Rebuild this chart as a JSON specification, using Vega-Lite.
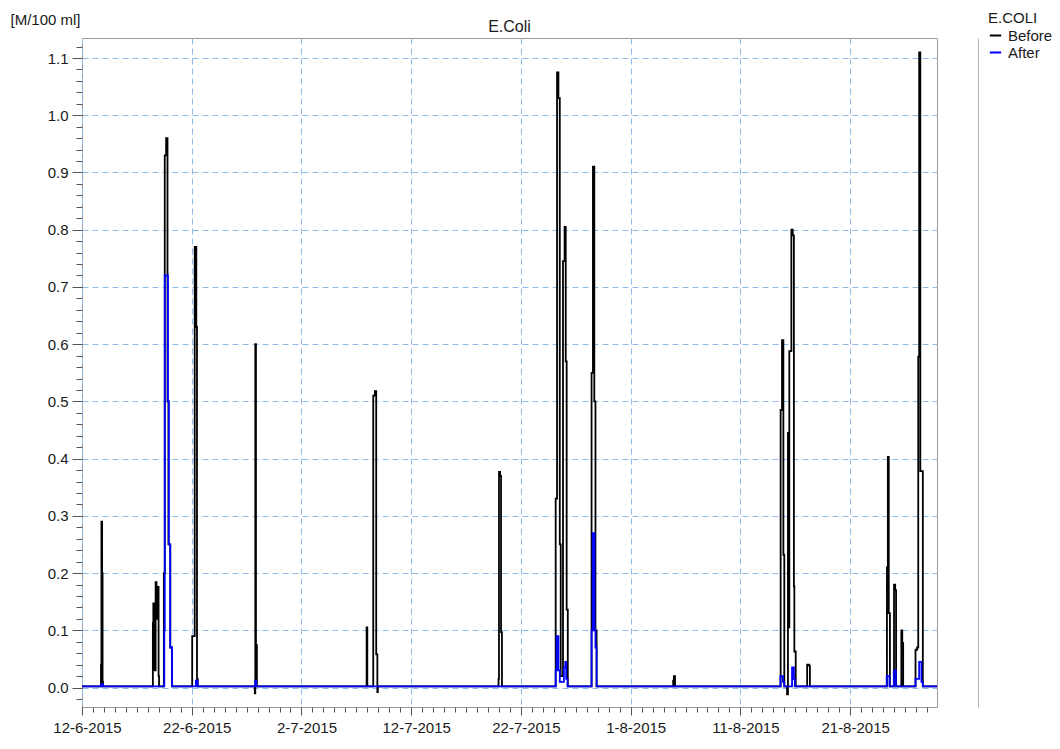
{
  "$schema": "https://vega.github.io/schema/vega-lite/v6.json",
  "autosize": {"type": "none"},
  "width": 855,
  "height": 669,
  "padding": {"left": 82, "top": 38, "right": 123, "bottom": 42},
  "background": "white",
  "config": {
    "view": {"stroke": "#9a9a9a", "strokeWidth": 1},
    "font": "Liberation Sans",
    "axis": {"labelFont": "Liberation Sans", "titleFont": "Liberation Sans", "labelColor": "#1a1a1a", "tickColor": "#555555", "domain": false}
  },
  "title": {"text": "E.Coli", "fontSize": 16, "fontWeight": "normal", "font": "Liberation Sans", "color": "#1a1a1a", "anchor": "middle", "offset": -24},
  "data": {
    "values": [
      {"t": "2015-06-12T00:00", "s": "Before", "v": 0.002},
      {"t": "2015-06-13T17:30", "s": "Before", "v": 0.04},
      {"t": "2015-06-13T18:30", "s": "Before", "v": 0.29},
      {"t": "2015-06-13T20:00", "s": "Before", "v": 0.2},
      {"t": "2015-06-13T21:00", "s": "Before", "v": 0.01},
      {"t": "2015-06-13T22:00", "s": "Before", "v": 0.002},
      {"t": "2015-06-18T11:00", "s": "Before", "v": 0.113},
      {"t": "2015-06-18T12:00", "s": "Before", "v": 0.147},
      {"t": "2015-06-18T14:00", "s": "Before", "v": 0.03},
      {"t": "2015-06-18T17:00", "s": "Before", "v": 0.184},
      {"t": "2015-06-18T19:00", "s": "Before", "v": 0.12},
      {"t": "2015-06-18T21:00", "s": "Before", "v": 0.176},
      {"t": "2015-06-18T23:30", "s": "Before", "v": 0.02},
      {"t": "2015-06-19T00:30", "s": "Before", "v": 0.002},
      {"t": "2015-06-19T11:00", "s": "Before", "v": 0.2},
      {"t": "2015-06-19T13:00", "s": "Before", "v": 0.93},
      {"t": "2015-06-19T16:00", "s": "Before", "v": 0.96},
      {"t": "2015-06-19T19:00", "s": "Before", "v": 0.5},
      {"t": "2015-06-19T21:00", "s": "Before", "v": 0.25},
      {"t": "2015-06-20T01:00", "s": "Before", "v": 0.07},
      {"t": "2015-06-20T05:00", "s": "Before", "v": 0.002},
      {"t": "2015-06-22T01:00", "s": "Before", "v": 0.09},
      {"t": "2015-06-22T06:30", "s": "Before", "v": 0.77},
      {"t": "2015-06-22T10:00", "s": "Before", "v": 0.63},
      {"t": "2015-06-22T11:30", "s": "Before", "v": 0.015},
      {"t": "2015-06-22T13:00", "s": "Before", "v": 0.002},
      {"t": "2015-06-27T18:00", "s": "Before", "v": -0.01},
      {"t": "2015-06-27T19:00", "s": "Before", "v": 0.6},
      {"t": "2015-06-27T20:30", "s": "Before", "v": 0.074},
      {"t": "2015-06-27T22:30", "s": "Before", "v": 0.002},
      {"t": "2015-07-07T22:30", "s": "Before", "v": 0.105},
      {"t": "2015-07-08T00:00", "s": "Before", "v": 0.002},
      {"t": "2015-07-08T13:00", "s": "Before", "v": 0.51},
      {"t": "2015-07-08T16:30", "s": "Before", "v": 0.518},
      {"t": "2015-07-08T19:30", "s": "Before", "v": 0.058},
      {"t": "2015-07-08T22:00", "s": "Before", "v": -0.008},
      {"t": "2015-07-08T23:00", "s": "Before", "v": 0.002},
      {"t": "2015-07-19T23:00", "s": "Before", "v": 0.015},
      {"t": "2015-07-20T00:00", "s": "Before", "v": 0.377},
      {"t": "2015-07-20T02:30", "s": "Before", "v": 0.37},
      {"t": "2015-07-20T04:30", "s": "Before", "v": 0.097},
      {"t": "2015-07-20T06:30", "s": "Before", "v": 0.002},
      {"t": "2015-07-25T04:00", "s": "Before", "v": 0.33},
      {"t": "2015-07-25T07:00", "s": "Before", "v": 1.075},
      {"t": "2015-07-25T10:00", "s": "Before", "v": 1.03},
      {"t": "2015-07-25T13:00", "s": "Before", "v": 0.25},
      {"t": "2015-07-25T15:00", "s": "Before", "v": 0.02},
      {"t": "2015-07-25T20:00", "s": "Before", "v": 0.745},
      {"t": "2015-07-25T23:30", "s": "Before", "v": 0.805},
      {"t": "2015-07-26T02:00", "s": "Before", "v": 0.57},
      {"t": "2015-07-26T04:00", "s": "Before", "v": 0.136},
      {"t": "2015-07-26T06:30", "s": "Before", "v": 0.002},
      {"t": "2015-07-28T10:30", "s": "Before", "v": 0.55},
      {"t": "2015-07-28T13:30", "s": "Before", "v": 0.91},
      {"t": "2015-07-28T16:30", "s": "Before", "v": 0.5},
      {"t": "2015-07-28T19:00", "s": "Before", "v": 0.1},
      {"t": "2015-07-28T21:30", "s": "Before", "v": 0.002},
      {"t": "2015-08-04T21:00", "s": "Before", "v": 0.012},
      {"t": "2015-08-04T22:30", "s": "Before", "v": 0.02},
      {"t": "2015-08-05T01:00", "s": "Before", "v": 0.002},
      {"t": "2015-08-14T16:00", "s": "Before", "v": 0.485},
      {"t": "2015-08-14T19:00", "s": "Before", "v": 0.607},
      {"t": "2015-08-14T22:00", "s": "Before", "v": 0.232},
      {"t": "2015-08-15T00:00", "s": "Before", "v": 0.002},
      {"t": "2015-08-15T06:00", "s": "Before", "v": -0.012},
      {"t": "2015-08-15T08:00", "s": "Before", "v": 0.445},
      {"t": "2015-08-15T10:00", "s": "Before", "v": 0.105},
      {"t": "2015-08-15T11:00", "s": "Before", "v": 0.588},
      {"t": "2015-08-15T15:30", "s": "Before", "v": 0.8},
      {"t": "2015-08-15T18:30", "s": "Before", "v": 0.79},
      {"t": "2015-08-15T21:00", "s": "Before", "v": 0.177},
      {"t": "2015-08-15T22:00", "s": "Before", "v": 0.063},
      {"t": "2015-08-16T01:00", "s": "Before", "v": 0.002},
      {"t": "2015-08-17T02:00", "s": "Before", "v": 0.04},
      {"t": "2015-08-17T06:30", "s": "Before", "v": 0.038},
      {"t": "2015-08-17T08:00", "s": "Before", "v": 0.002},
      {"t": "2015-08-24T08:30", "s": "Before", "v": 0.21},
      {"t": "2015-08-24T10:30", "s": "Before", "v": 0.403},
      {"t": "2015-08-24T12:30", "s": "Before", "v": 0.13},
      {"t": "2015-08-24T15:00", "s": "Before", "v": 0.002},
      {"t": "2015-08-25T00:00", "s": "Before", "v": 0.18},
      {"t": "2015-08-25T02:30", "s": "Before", "v": 0.17},
      {"t": "2015-08-25T04:30", "s": "Before", "v": 0.002},
      {"t": "2015-08-25T16:00", "s": "Before", "v": 0.1},
      {"t": "2015-08-25T18:00", "s": "Before", "v": 0.078},
      {"t": "2015-08-25T20:00", "s": "Before", "v": 0.002},
      {"t": "2015-08-26T23:00", "s": "Before", "v": 0.066},
      {"t": "2015-08-27T02:30", "s": "Before", "v": 0.07},
      {"t": "2015-08-27T05:00", "s": "Before", "v": 0.578},
      {"t": "2015-08-27T07:00", "s": "Before", "v": 1.11},
      {"t": "2015-08-27T09:30", "s": "Before", "v": 0.378},
      {"t": "2015-08-27T15:00", "s": "Before", "v": 0.002},
      {"t": "2015-08-28T22:00", "s": "Before", "v": 0.002},
      {"t": "2015-06-12T00:00", "s": "After", "v": 0.002},
      {"t": "2015-06-13T18:00", "s": "After", "v": 0.006},
      {"t": "2015-06-13T22:00", "s": "After", "v": 0.002},
      {"t": "2015-06-19T12:00", "s": "After", "v": 0.1},
      {"t": "2015-06-19T13:00", "s": "After", "v": 0.72},
      {"t": "2015-06-19T20:00", "s": "After", "v": 0.5},
      {"t": "2015-06-19T22:00", "s": "After", "v": 0.25},
      {"t": "2015-06-20T01:00", "s": "After", "v": 0.07},
      {"t": "2015-06-20T05:00", "s": "After", "v": 0.002},
      {"t": "2015-06-22T09:00", "s": "After", "v": 0.012},
      {"t": "2015-06-22T13:00", "s": "After", "v": 0.002},
      {"t": "2015-06-27T19:00", "s": "After", "v": 0.012},
      {"t": "2015-06-27T21:00", "s": "After", "v": 0.002},
      {"t": "2015-07-25T04:00", "s": "After", "v": 0.03},
      {"t": "2015-07-25T06:00", "s": "After", "v": 0.09},
      {"t": "2015-07-25T10:00", "s": "After", "v": 0.03},
      {"t": "2015-07-25T13:00", "s": "After", "v": 0.01},
      {"t": "2015-07-25T22:00", "s": "After", "v": 0.035},
      {"t": "2015-07-26T01:00", "s": "After", "v": 0.045},
      {"t": "2015-07-26T03:00", "s": "After", "v": 0.015},
      {"t": "2015-07-26T06:00", "s": "After", "v": 0.002},
      {"t": "2015-07-28T10:30", "s": "After", "v": 0.1},
      {"t": "2015-07-28T13:00", "s": "After", "v": 0.27},
      {"t": "2015-07-28T17:00", "s": "After", "v": 0.1},
      {"t": "2015-07-28T19:00", "s": "After", "v": 0.07},
      {"t": "2015-07-28T21:30", "s": "After", "v": 0.002},
      {"t": "2015-08-14T15:30", "s": "After", "v": 0.02},
      {"t": "2015-08-14T21:00", "s": "After", "v": 0.01},
      {"t": "2015-08-15T00:00", "s": "After", "v": 0.002},
      {"t": "2015-08-15T17:00", "s": "After", "v": 0.035},
      {"t": "2015-08-15T21:00", "s": "After", "v": 0.015},
      {"t": "2015-08-15T23:00", "s": "After", "v": 0.002},
      {"t": "2015-08-24T08:00", "s": "After", "v": 0.02},
      {"t": "2015-08-24T14:00", "s": "After", "v": 0.002},
      {"t": "2015-08-24T23:30", "s": "After", "v": 0.03},
      {"t": "2015-08-25T04:00", "s": "After", "v": 0.002},
      {"t": "2015-08-26T23:00", "s": "After", "v": 0.015},
      {"t": "2015-08-27T07:00", "s": "After", "v": 0.045},
      {"t": "2015-08-27T12:00", "s": "After", "v": 0.01},
      {"t": "2015-08-27T15:00", "s": "After", "v": 0.002},
      {"t": "2015-08-28T22:00", "s": "After", "v": 0.002}
    ]
  },
  "layer": [
    {
      "transform": [{"filter": "datum.s === 'Before'"}],
      "mark": {"type": "line", "interpolate": "step-after", "strokeWidth": 1.8, "clip": true},
      "encoding": {
        "x": {
          "field": "t", "type": "temporal",
          "scale": {"domain": [{"year": 2015, "month": 6, "date": 12}, {"year": 2015, "month": 8, "date": 28, "hours": 22}], "nice": false},
          "axis": {
            "orient": "bottom", "title": null, "format": "%-d-%-m-%Y", "labelFontSize": 15, "labelFlush": false, "labelOverlap": false,
            "labelAlign": "center", "labelOffset": 5,
            "values": [
              {"year": 2015, "month": 6, "date": 12}, {"year": 2015, "month": 6, "date": 22},
              {"year": 2015, "month": 7, "date": 2}, {"year": 2015, "month": 7, "date": 12},
              {"year": 2015, "month": 7, "date": 22}, {"year": 2015, "month": 8, "date": 1},
              {"year": 2015, "month": 8, "date": 11}, {"year": 2015, "month": 8, "date": 21}
            ],
            "tickSize": 8, "labelPadding": 5,
            "grid": true, "gridColor": "#8fbbe6", "gridDash": [6, 4], "gridWidth": 1
          }
        },
        "y": {
          "field": "v", "type": "quantitative",
          "scale": {"domain": [-0.034, 1.135], "nice": false, "zero": false},
          "axis": {
            "orient": "left", "format": ".1f", "labelFontSize": 15,
            "values": [0, 0.1, 0.2, 0.3, 0.4, 0.5, 0.6, 0.7, 0.8, 0.9, 1.0, 1.1],
            "tickSize": 10, "labelPadding": 4,
            "grid": true, "gridColor": "#8fbbe6", "gridDash": [6, 4], "gridWidth": 1,
            "title": "[M/100 ml]", "titleAngle": 0, "titleAlign": "left", "titleBaseline": "alphabetic",
            "titleX": -72, "titleY": -14, "titleFontSize": 15, "titleFontWeight": "normal", "titleColor": "#1a1a1a"
          }
        },
        "color": {
          "field": "s", "type": "nominal",
          "scale": {"domain": ["Before", "After"], "range": ["#000000", "#0000ff"]},
          "legend": {
            "orient": "none", "legendX": 906, "legendY": -27,
            "title": "E.COLI", "titleFontSize": 15, "titleFontWeight": "normal", "titleColor": "#1a1a1a", "titleFont": "Liberation Sans", "titlePadding": 2,
            "labelFontSize": 15, "labelColor": "#1a1a1a", "labelFont": "Liberation Sans", "labelOffset": 5,
            "symbolType": "stroke", "symbolSize": 130, "symbolStrokeWidth": 2, "rowPadding": 1
          }
        }
      }
    },
    {
      "transform": [{"filter": "datum.s === 'After'"}],
      "mark": {"type": "line", "interpolate": "step-after", "strokeWidth": 1.8, "clip": true},
      "encoding": {
        "x": {"field": "t", "type": "temporal", "axis": null},
        "y": {"field": "v", "type": "quantitative", "axis": null},
        "color": {"field": "s", "type": "nominal"}
      }
    },
    {
      "mark": {"type": "line", "opacity": 0},
      "encoding": {
        "x": {"field": "t", "type": "temporal", "axis": {"orient": "bottom", "labels": false, "grid": false, "title": null, "tickSize": 5, "tickCount": {"interval": "day", "step": 1}}},
        "y": {"field": "v", "type": "quantitative", "axis": {"orient": "left", "labels": false, "grid": false, "title": null, "tickSize": 6,
          "values": [-0.02, 0, 0.02, 0.04, 0.06, 0.08, 0.1, 0.12, 0.14, 0.16, 0.18, 0.2, 0.22, 0.24, 0.26, 0.28, 0.3, 0.32, 0.34, 0.36, 0.38, 0.4, 0.42, 0.44, 0.46, 0.48, 0.5, 0.52, 0.54, 0.56, 0.58, 0.6, 0.62, 0.64, 0.66, 0.68, 0.7, 0.72, 0.74, 0.76, 0.78, 0.8, 0.82, 0.84, 0.86, 0.88, 0.9, 0.92, 0.94, 0.96, 0.98, 1.0, 1.02, 1.04, 1.06, 1.08, 1.1, 1.12]}}
      }
    },
    {
      "mark": {"type": "line", "opacity": 0},
      "encoding": {
        "x": {"field": "t", "type": "temporal", "axis": null},
        "y": {"field": "v", "type": "quantitative", "axis": {"orient": "right", "offset": 41, "domain": true, "domainColor": "#b4b4b4", "domainWidth": 1, "ticks": false, "labels": false, "grid": false, "title": null}}
      }
    }
  ],
  "resolve": {"axis": {"x": "independent", "y": "independent"}}
}
